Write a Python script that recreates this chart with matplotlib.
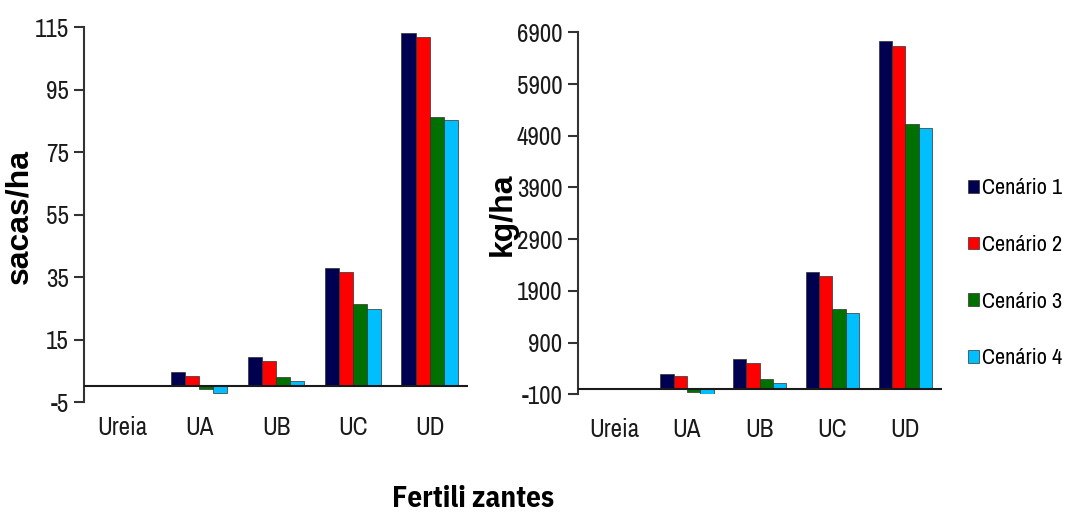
import numpy as np
import matplotlib
matplotlib.use("Agg")
import matplotlib.pyplot as plt

# dados
fertilizantes = ["Ureia", "UA", "UB", "UC", "UD"]
cenarios = ["Cenário 1", "Cenário 2", "Cenário 3", "Cenário 4"]
cores = ["#000050", "#ff0000", "#007000", "#00bfff"]

sacas_c1 = [0, 4.6, 9.5, 38.0, 113.2]
sacas_c2 = [0, 3.3, 8.2, 36.7, 111.9]
sacas_c3 = [0, -0.9, 3.1, 26.3, 86.1]
sacas_c4 = [0, -2.0, 1.8, 24.8, 85.2]

kg_c1 = [0, 290, 580, 2270, 6725]
kg_c2 = [0, 250, 505, 2185, 6640]
kg_c3 = [0, -50, 200, 1550, 5125]
kg_c4 = [0, -110, 118, 1465, 5045]

sacas_ticks = [-5, 15, 35, 55, 75, 95, 115]
kg_ticks = [-100, 900, 1900, 2900, 3900, 4900, 5900, 6900]

fonte_estreita = ["Archivo Narrow", "PT Sans Narrow", "Roboto Condensed",
                  "IBM Plex Sans Condensed", "DejaVu Sans"]
fonte_estreita_negrito = ["IBM Plex Sans Condensed", "Roboto Condensed",
                          "DejaVu Sans"]
fonte_normal = ["Arimo", "Liberation Sans", "DejaVu Sans"]
plt.rcParams["font.family"] = fonte_estreita
plt.rcParams["axes.unicode_minus"] = False

fig = plt.figure(figsize=(10.66, 5.17), dpi=100)
ax1 = fig.add_axes([0.0788, 0.2224, 0.3602, 0.7253])
ax2 = fig.add_axes([0.5419, 0.2373, 0.3415, 0.7002])

largura = 0.183
x = np.arange(len(fertilizantes))


def desenha(ax, series, ticks, ylim, ylabel, pad_x):
    barras = []
    for i, (vals, cor) in enumerate(zip(series, cores)):
        b = ax.bar(x + (i - 1.5) * largura, vals, largura, color=cor,
                   edgecolor="#303030", linewidth=0.5, zorder=2)
        barras.append(b)
    ax.axhline(0, color="#1a1a1a", linewidth=1.5, zorder=3)
    ax.set_xlim(-0.5, 4.5)
    ax.set_ylim(*ylim)
    ax.set_yticks(ticks)
    ax.set_xticks(x)
    ax.set_xticklabels(fertilizantes)
    for s in ["top", "right", "bottom"]:
        ax.spines[s].set_visible(False)
    ax.spines["left"].set_linewidth(1.5)
    ax.spines["left"].set_color("#333333")
    ax.tick_params(axis="y", direction="out", length=7, width=1.5,
                   color="#333333", labelsize=18, pad=4, labelcolor="#1a1a1a")
    ax.tick_params(axis="x", length=0, labelsize=18, pad=pad_x,
                   labelcolor="#1a1a1a")
    ax.set_ylabel(ylabel, family=fonte_normal, fontweight="bold", fontsize=23)
    return barras


barras = desenha(ax1, [sacas_c1, sacas_c2, sacas_c3, sacas_c4],
                 sacas_ticks, (-5, 115), "sacas/ha", 10)
ax1.yaxis.set_label_coords(-0.13, 0.495)
desenha(ax2, [kg_c1, kg_c2, kg_c3, kg_c4],
        kg_ticks, (-100, 6900), "kg/ha", 17)
ax2.yaxis.set_label_coords(-0.165, 0.498)

fig.legend(barras, cenarios, loc="upper left",
           bbox_to_anchor=(0.908, 0.655), frameon=False, fontsize=16,
           handlelength=0.5, handleheight=0.5, handletextpad=0.15,
           labelspacing=1.65, borderaxespad=0, borderpad=0)

fig.text(0.444, 0.035, "Fertili zantes", ha="center", va="center",
         fontsize=21, fontweight="bold", family=fonte_estreita_negrito)

fig.savefig("out.png", dpi=100)
